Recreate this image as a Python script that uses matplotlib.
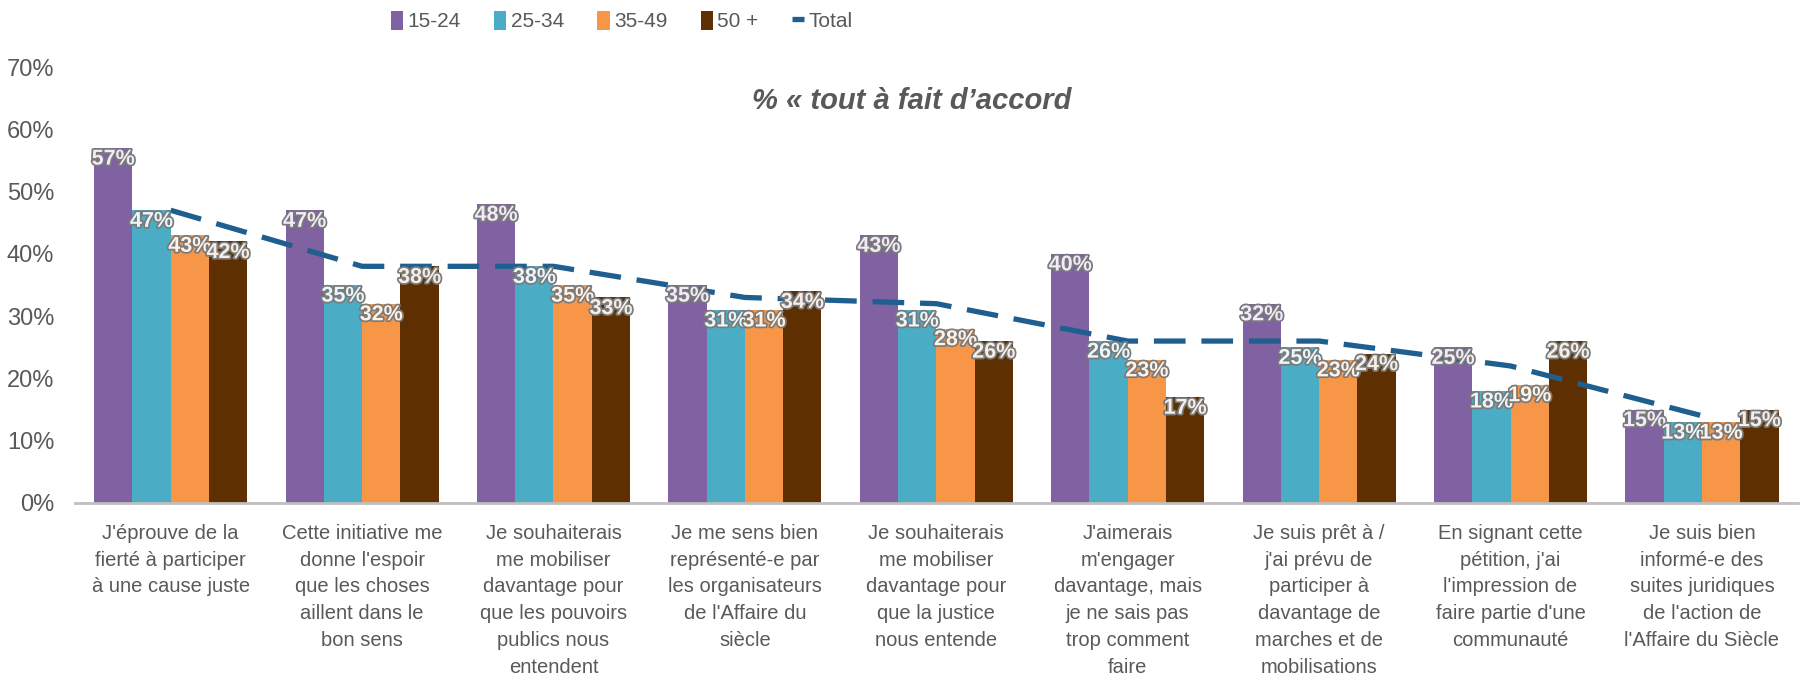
import numpy as np
import matplotlib
matplotlib.use("Agg")
import matplotlib.pyplot as plt
import matplotlib.patheffects as pe
from matplotlib.ticker import PercentFormatter

categories = [
    "J'éprouve de la\nfierté à participer\nà une cause juste",
    "Cette initiative me\ndonne l'espoir\nque les choses\naillent dans le\nbon sens",
    "Je souhaiterais\nme mobiliser\ndavantage pour\nque les pouvoirs\npublics nous\nentendent",
    "Je me sens bien\nreprésenté-e par\nles organisateurs\nde l'Affaire du\nsiècle",
    "Je souhaiterais\nme mobiliser\ndavantage pour\nque la justice\nnous entende",
    "J'aimerais\nm'engager\ndavantage, mais\nje ne sais pas\ntrop comment\nfaire",
    "Je suis prêt à /\nj'ai prévu de\nparticiper à\ndavantage de\nmarches et de\nmobilisations",
    "En signant cette\npétition, j'ai\nl'impression de\nfaire partie d'une\ncommunauté",
    "Je suis bien\ninformé-e des\nsuites juridiques\nde l'action de\nl'Affaire du Siècle",
]

age_15_24 = [57, 47, 48, 35, 43, 40, 32, 25, 15]
age_25_34 = [47, 35, 38, 31, 31, 26, 25, 18, 13]
age_35_49 = [43, 32, 35, 31, 28, 23, 23, 19, 13]
age_50_plus = [42, 38, 33, 34, 26, 17, 24, 26, 15]
total = [47, 38, 38, 33, 32, 26, 26, 22, 14]

series_names = ["15-24", "25-34", "35-49", "50 +"]
colors = ["#8062A2", "#4BACC6", "#F79646", "#5E2F00"]
label_fill = ["#F1EAF8", "#E8F7FB", "#FFF1E3", "#F6EEE6"]
gray = "#595959"
font = ["Liberation Sans", "DejaVu Sans"]

fig = plt.figure(figsize=(18.02, 6.81), dpi=100)
ax = fig.add_axes([0.0416, 0.2614, 0.956, 0.6402])

x = np.arange(len(categories))
width = 0.2
all_series = [age_15_24, age_25_34, age_35_49, age_50_plus]

handles = []
for i, vals in enumerate(all_series):
    offs = (i - 1.5) * width
    bars = ax.bar(x + offs, vals, width, color=colors[i], zorder=2, label=series_names[i])
    handles.append(bars)
    for xi, v in zip(x + offs, vals):
        ax.annotate(f"{v}%", (xi, v), xytext=(0, -8), textcoords="offset points",
                    ha="center", va="center", fontsize=15.5, fontweight="bold",
                    family=font, color=label_fill[i], zorder=5,
                    path_effects=[pe.withStroke(linewidth=2.5, foreground="#7a7a7a")])

line, = ax.plot(x, total, color="#1F5F8F", lw=3.8, dashes=(6, 3),
                zorder=3, label="Total")
handles.append(line)

ax.set_xlim(-0.5, 8.5)
ax.set_ylim(0, 70)
ax.set_yticks(np.arange(0, 71, 10))
ax.yaxis.set_major_formatter(PercentFormatter(decimals=0))
ax.set_xticks(x)
ax.set_xticklabels(categories, fontsize=14.5, color=gray, linespacing=1.52, family=font)
ax.tick_params(axis="x", length=0, pad=15)
ax.tick_params(axis="y", length=0, pad=15, labelsize=17, labelcolor=gray)
for lbl in ax.get_yticklabels():
    lbl.set_family(font)

for s in ["top", "right", "left"]:
    ax.spines[s].set_visible(False)
ax.spines["bottom"].set_color("#BFBFBF")
ax.spines["bottom"].set_linewidth(2)

fig.text(0.506, 0.851, "% « tout à fait d\u2019accord", ha="center", va="center",
         fontsize=21, fontweight="bold", fontstyle="italic", color=gray, family=font)

leg = fig.legend(handles=handles, labels=series_names + ["Total"], loc="center",
                 bbox_to_anchor=(0.345, 0.969), ncol=5, frameon=False,
                 handlelength=0.6, handleheight=1.0, handletextpad=0.2,
                 columnspacing=1.6, prop={"family": font, "size": 15})
for t in leg.get_texts():
    t.set_color(gray)

fig.savefig("out.png", dpi=100)
